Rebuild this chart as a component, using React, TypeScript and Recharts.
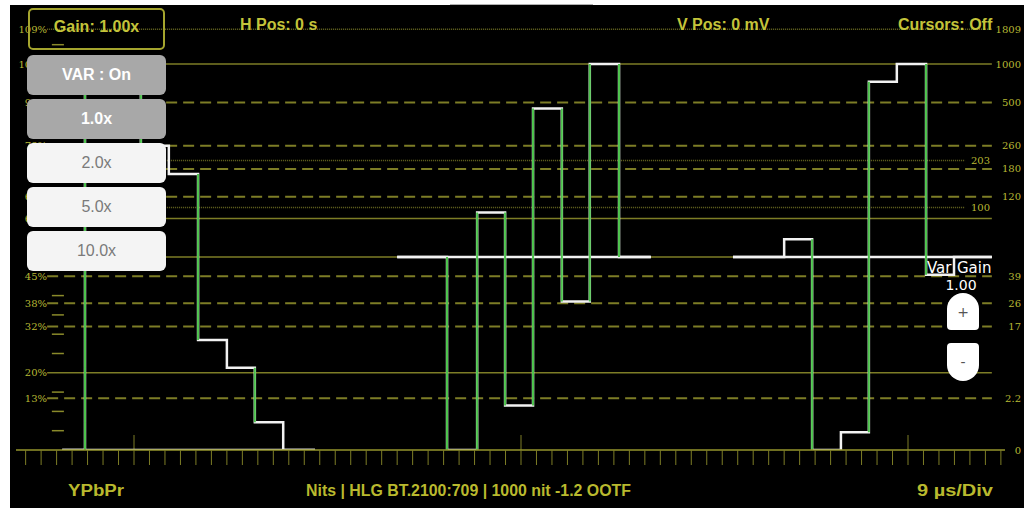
import React from "react";
import { LineChart, Line, XAxis, YAxis, ReferenceLine } from "recharts";

// ---- picture layout (pixels) ----
const W = 1024;
const H = 508;
const BASE_PX = 450; // 0 % signal
const PX_PER_PCT = 3.86;
const ORIGIN_PX = 134; // first major division
const PX_PER_US = 43;
const PLOT_LEFT = 16;
const PLOT_RIGHT = 1005;
const X_DOMAIN = [(PLOT_LEFT - ORIGIN_PX) / PX_PER_US, (PLOT_RIGHT - ORIGIN_PX) / PX_PER_US];
const Y_DOMAIN = [0, BASE_PX / PX_PER_PCT];

// ---- colour bar parade (time in µs, level in % signal) ----
const BAR_NAMES = ["blank", "white", "yellow", "cyan", "green", "magenta", "red", "blue", "black"];
const Y_EDGES = [-1.67, -1.14, -0.49, 0.16, 0.81, 1.49, 2.16, 2.81, 3.47, 4.21];
const Y_LEVELS = [0, 100, 92.8, 78.8, 71.5, 28.5, 21.3, 7.2, 0];
const PB_EDGES = [6.12, 6.63, 7.28, 7.98, 8.63, 9.28, 9.95, 10.6, 11.28, 12.02];
const PB_LEVELS = [50, 50, 0, 61.5, 11.5, 88.5, 38.5, 100, 50];
const PR_EDGES = [13.93, 14.47, 15.12, 15.77, 16.44, 17.09, 17.74, 18.42, 19.07, 19.95];
const PR_LEVELS = [50, 50, 54.6, 0, 4.6, 95.4, 100, 45.4, 50];

// ---- graticule ----
const GRAT_X = [-2.02, 19.95];
const GRAT_X_SHORT = [-2.02, 19.33];
const SOLID_LINES = [100, 60, 50, 20];
const DASHED_LINES = [90, 78.8, 72.8, 65.6, 45, 38, 32, 13.4];
const DOTTED_LINES = [109];
const DOTTED_SHORT = [75, 62.8];
const LEFT_MINOR = [5, 10, 15, 25, 30, 35, 40, 105];
const LEFT_MINOR_X = [-1.91, -1.63];
const MAJOR_DIVS = [0, 9, 18];

const LEFT_TICKS = [109, 100, 90, 78.8, 65.6, 60, 45, 38, 32, 20, 13.4];
const LEFT_TEXT = ["109%", "100%", "90%", "79%", "66%", "60%", "45%", "38%", "32%", "20%", "13%"];
const RIGHT_TICKS = [109, 100, 90, 78.8, 75, 72.8, 65.6, 62.8, 45, 38, 32, 13.4, 0];
const RIGHT_TEXT = ["1809", "1000", "500", "260", "203", "180", "120", "100", "39", "26", "17", "2.2", "0"];
const RIGHT_INNER = ["203", "100"];

const MINOR_STEP = 0.36;
const MINOR_TICKS = Array.from({ length: 64 }, (_, i) => +(-2.52 + i * MINOR_STEP).toFixed(2));

const YELLOW = "#c4c43a";
const GRID = "#7d7d26";
const TRACE = "#f2f2f2";
const GREEN = "#4cc24c";

function staircase(edges: number[], levels: number[]) {
  const pts: { x: number; y: number | null }[] = [];
  levels.forEach((v, i) => {
    pts.push({ x: edges[i], y: v });
    pts.push({ x: edges[i + 1], y: v });
  });
  return pts;
}

// long transitions show up green on the scope
function risers(edges: number[], levels: number[]) {
  const pts: { x: number; y: number | null }[] = [];
  for (let i = 1; i < levels.length; i++) {
    if (Math.abs(levels[i] - levels[i - 1]) >= 8) {
      pts.push({ x: edges[i], y: levels[i - 1] }, { x: edges[i], y: levels[i] }, { x: edges[i], y: null });
    }
  }
  return pts;
}

function blankLine(edges: number[], levels: number[]) {
  return [
    { x: edges[0], y: levels[0] },
    { x: edges[edges.length - 1], y: levels[0] },
  ];
}

const CHANNELS = [
  { name: "Y", edges: Y_EDGES, levels: Y_LEVELS },
  { name: "Pb", edges: PB_EDGES, levels: PB_LEVELS },
  { name: "Pr", edges: PR_EDGES, levels: PR_LEVELS },
];

function LeftTick({ y, payload }: any) {
  const i = LEFT_TICKS.indexOf(payload.value);
  return (
    <text x={47} y={y} dy={3.5} textAnchor="end" fontSize={10} fontFamily="DejaVu Serif" fill="#b8b834">
      {LEFT_TEXT[i]}
    </text>
  );
}

function RightTick({ y, payload }: any) {
  const t = RIGHT_TEXT[RIGHT_TICKS.indexOf(payload.value)];
  const inner = RIGHT_INNER.includes(t);
  return (
    <text x={inner ? 990 : 1021} y={y} dy={3.5} textAnchor="end" fontSize={10} fontFamily="DejaVu Serif" fill="#b8b834">
      {t}
    </text>
  );
}

const hText: React.CSSProperties = {
  position: "absolute",
  color: YELLOW,
  fontFamily: "Liberation Sans, Arial, sans-serif",
  fontWeight: 700,
  fontSize: 16,
  lineHeight: "18px",
  whiteSpace: "nowrap",
};

function Btn({ top, label, active }: { top: number; label: string; active: boolean }) {
  return (
    <div
      style={{
        position: "absolute", left: 27, top, width: 139, height: 40, borderRadius: 6,
        background: active ? "#a8a8a8" : "#f4f4f4", color: active ? "#fff" : "#7a7a7a",
        fontFamily: "Liberation Sans, Arial, sans-serif", fontSize: 16, fontWeight: active ? 700 : 400,
        display: "flex", alignItems: "center", justifyContent: "center",
      }}
    >
      {label}
    </div>
  );
}

export default function App() {
  return (
    <div style={{ position: "relative", width: W, height: H, background: "#fff", overflow: "hidden" }}>
      <style>{"body{margin:0}"}</style>
      <div style={{ position: "absolute", left: 10, top: 5, right: 0, bottom: 0, background: "#000" }} />
      <div style={{ position: "absolute", left: 450, top: 0, width: 143, height: 4, borderBottom: "1px solid #b0b0b0", background: "#fff" }} />

      <div style={{ position: "absolute", left: 0, top: 0 }}>
        <LineChart width={W} height={H} margin={{ top: 0, right: 0, bottom: 0, left: 0 }}>
          <XAxis
            type="number" dataKey="x" domain={X_DOMAIN} allowDataOverflow
            ticks={MINOR_TICKS} interval={0} height={H - BASE_PX}
            tickSize={15} tickFormatter={() => ""}
            tickLine={{ stroke: GRID, strokeWidth: 1 }}
            axisLine={{ stroke: "#95952c", strokeWidth: 1.5 }}
          />
          <YAxis
            yAxisId="l" type="number" domain={Y_DOMAIN} allowDataOverflow width={PLOT_LEFT}
            ticks={LEFT_TICKS} interval={0} tick={<LeftTick />} tickLine={false} axisLine={false}
          />
          <YAxis
            yAxisId="r" orientation="right" type="number" domain={Y_DOMAIN} allowDataOverflow width={W - PLOT_RIGHT}
            ticks={RIGHT_TICKS} interval={0} tick={<RightTick />} tickLine={false} axisLine={false}
          />

          {SOLID_LINES.map((v) => (
            <ReferenceLine key={"s" + v} yAxisId="l" segment={[{ x: GRAT_X[0], y: v }, { x: GRAT_X[1], y: v }]} stroke={GRID} strokeWidth={1.5} />
          ))}
          {DASHED_LINES.map((v) => (
            <ReferenceLine key={"d" + v} yAxisId="l" segment={[{ x: GRAT_X[0], y: v }, { x: GRAT_X[1], y: v }]} stroke={GRID} strokeWidth={2} strokeDasharray="11 6" />
          ))}
          {DOTTED_LINES.map((v) => (
            <ReferenceLine key={"o" + v} yAxisId="l" segment={[{ x: GRAT_X[0], y: v }, { x: GRAT_X[1], y: v }]} stroke="#6a6a22" strokeWidth={1.5} strokeDasharray="1 1" />
          ))}
          {DOTTED_SHORT.map((v) => (
            <ReferenceLine key={"t" + v} yAxisId="l" segment={[{ x: GRAT_X_SHORT[0], y: v }, { x: GRAT_X_SHORT[1], y: v }]} stroke="#6a6a22" strokeWidth={1.5} strokeDasharray="1 1" />
          ))}
          {LEFT_MINOR.map((v) => (
            <ReferenceLine key={"m" + v} yAxisId="l" segment={[{ x: LEFT_MINOR_X[0], y: v }, { x: LEFT_MINOR_X[1], y: v }]} stroke="#8a8a2a" strokeWidth={1.5} />
          ))}
          {MAJOR_DIVS.map((d) => (
            <ReferenceLine key={"M" + d} yAxisId="l" segment={[{ x: d, y: 0 }, { x: d, y: 15 / PX_PER_PCT }]} stroke={GRID} strokeWidth={1} />
          ))}

          {CHANNELS.map((c) => (
            <Line
              key={c.name + "b"} yAxisId="l" data={blankLine(c.edges, c.levels)} dataKey="y"
              stroke={TRACE} strokeWidth={2.5} dot={false} activeDot={false} isAnimationActive={false}
            />
          ))}
          {CHANNELS.map((c) => (
            <Line
              key={c.name + "w"} yAxisId="l" data={staircase(c.edges, c.levels)} dataKey="y" type="linear"
              stroke={TRACE} strokeWidth={2.5} dot={false} activeDot={false} isAnimationActive={false}
            />
          ))}
          {CHANNELS.map((c) => (
            <Line
              key={c.name + "g"} yAxisId="l" data={risers(c.edges, c.levels)} dataKey="y" connectNulls={false}
              stroke={GREEN} strokeWidth={2} dot={false} activeDot={false} isAnimationActive={false}
            />
          ))}
        </LineChart>
      </div>

      {/* on-screen menu */}
      <div style={{ position: "absolute", left: 28, top: 8, width: 133, height: 38, border: "2px solid #a5a52e", borderRadius: 5 }} />
      <div style={{ ...hText, left: 28, top: 18, width: 137, textAlign: "center" }}>Gain: 1.00x</div>
      <div style={{ ...hText, left: 240, top: 16 }}>H Pos: 0 s</div>
      <div style={{ ...hText, left: 677, top: 16 }}>V Pos: 0 mV</div>
      <div style={{ ...hText, left: 898, top: 16 }}>Cursors: Off</div>

      <Btn top={55} label="VAR : On" active />
      <Btn top={99} label="1.0x" active />
      <Btn top={143} label="2.0x" active={false} />
      <Btn top={187} label="5.0x" active={false} />
      <Btn top={231} label="10.0x" active={false} />

      <svg width={W} height={H} style={{ position: "absolute", left: 0, top: 0, pointerEvents: "none" }}>
        <g fontFamily="Liberation Sans, Arial, sans-serif" fontWeight={700} fontSize={16} fill="#b9b92e">
          <text x={68} y={496} textLength={56} lengthAdjust="spacingAndGlyphs">YPbPr</text>
          <text x={306} y={496} textLength={325} lengthAdjust="spacingAndGlyphs">Nits | HLG BT.2100:709 | 1000 nit -1.2 OOTF</text>
          <text x={917} y={496} textLength={76} lengthAdjust="spacingAndGlyphs">9 µs/Div</text>
        </g>
        <g fontFamily="DejaVu Sans" fill="#fff">
          <text x={927} y={273} fontSize={15}>Var</text>
          <text x={957} y={273} fontSize={15}>Gain</text>
          <text x={961} y={290} fontSize={14} textAnchor="middle">1.00</text>
        </g>
      </svg>

      <div style={{ position: "absolute", left: 947, top: 293, width: 32, height: 37, background: "#fff", borderRadius: "16px 16px 4px 4px", color: "#555", fontSize: 14, fontFamily: "DejaVu Sans", display: "flex", alignItems: "center", justifyContent: "center" }}>+</div>
      <div style={{ position: "absolute", left: 947, top: 343, width: 32, height: 38, background: "#fff", borderRadius: "4px 4px 16px 16px", color: "#555", fontSize: 14, fontFamily: "DejaVu Sans", display: "flex", alignItems: "center", justifyContent: "center" }}>-</div>
    </div>
  );
}
